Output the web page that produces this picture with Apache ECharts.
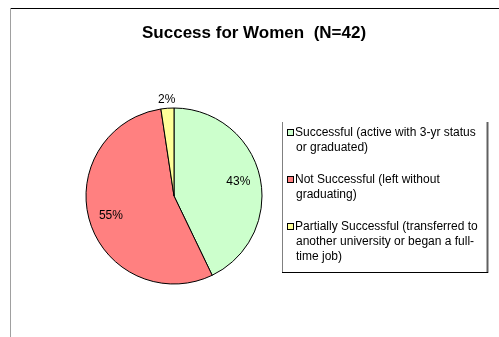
<!DOCTYPE html>
<html>
<head>
<meta charset="utf-8">
<script src="https://cdn.jsdelivr.net/npm/echarts@6/dist/echarts.min.js"></script>
<style>
html,body{margin:0;padding:0;background:#fff;}
#c{width:499px;height:337px;}
</style>
</head>
<body>
<div id="c"></div>
<script>
const chartTitle = 'Success for Women  (N=42)';
const categories = [
  'Successful (active with 3-yr status or graduated)',
  'Not Successful (left without graduating)',
  'Partially Successful (transferred to another university or began a full-time job)'
];
const legendLines = [
  ['Successful (active with 3-yr status', 'or graduated)'],
  ['Not Successful (left without', 'graduating)'],
  ['Partially Successful (transferred to', 'another university or began a full-', 'time job)']
];
const counts = [18, 23, 1];
const sliceColors = ['#CCFFCC', '#FF8080', '#FFFF99'];

const FONT = '"Liberation Sans", Arial, sans-serif';
const chart = echarts.init(document.getElementById('c'), null, {renderer: 'canvas'});

const pieData = categories.map((n, i) => ({name: n, value: counts[i], itemStyle: {color: sliceColors[i]}}));
const CENTER = [174, 196];

const rich = {
  t: {fontSize: 12, lineHeight: 15, color: '#000', fontFamily: FONT},
  gap: {width: 2},
  ind: {width: 8}
};
sliceColors.forEach((c, i) => {
  rich['m' + i] = {width: 5, height: 5, backgroundColor: c, borderColor: '#000', borderWidth: 1};
});

function overlay(radius, showIdx) {
  return {
    type: 'pie',
    center: CENTER,
    radius: [0, radius],
    startAngle: 90,
    clockwise: true,
    silent: true,
    percentPrecision: 0,
    avoidLabelOverlap: false,
    itemStyle: {color: 'rgba(0,0,0,0)', borderWidth: 0},
    emphasis: {disabled: true},
    labelLine: {show: false},
    data: categories.map((n, i) => ({
      name: n, value: counts[i],
      label: {show: showIdx.indexOf(i) >= 0}
    })),
    label: {
      position: 'inside',
      formatter: '{d}%',
      color: '#000',
      fontSize: 12,
      fontFamily: FONT
    }
  };
}

chart.setOption({
  animation: false,
  backgroundColor: '#fff',
  title: {
    text: chartTitle,
    left: 142,
    top: 25,
    padding: 0,
    textStyle: {fontSize: 17, fontWeight: 'bold', color: '#000', fontFamily: FONT}
  },
  legend: {
    orient: 'vertical',
    left: 283,
    top: 125,
    padding: 0,
    itemGap: 17,
    itemWidth: 0,
    itemHeight: 0,
    selectedMode: false,
    icon: 'rect',
    itemStyle: {borderWidth: 0},
    data: categories,
    formatter: function (name) {
      const i = categories.indexOf(name);
      return legendLines[i].map((l, k) => k === 0
        ? '{m' + i + '|}{gap|}{t|' + l + '}'
        : '{ind|}{t|' + l + '}').join('\n');
    },
    textStyle: {rich: rich, fontSize: 12, lineHeight: 15, fontFamily: FONT}
  },
  graphic: [
    {type: 'line', shape: {x1: 10, y1: 8.5, x2: 499, y2: 8.5}, style: {stroke: '#000', lineWidth: 1}, silent: true},
    {type: 'line', shape: {x1: 10.5, y1: 8, x2: 10.5, y2: 337}, style: {stroke: '#a0a0a0', lineWidth: 1}, silent: true},
    {type: 'line', shape: {x1: 282.5, y1: 122, x2: 282.5, y2: 272}, style: {stroke: '#808080', lineWidth: 1}, silent: true},
    {type: 'line', shape: {x1: 487.5, y1: 122, x2: 487.5, y2: 273}, style: {stroke: '#606060', lineWidth: 2}, silent: true},
    {type: 'line', shape: {x1: 282, y1: 272.5, x2: 488, y2: 272.5}, style: {stroke: '#000', lineWidth: 1}, silent: true}
  ],
  series: [
    {
      type: 'pie',
      center: CENTER,
      radius: [0, 88],
      startAngle: 90,
      clockwise: true,
      silent: true,
      emphasis: {disabled: true},
      itemStyle: {borderColor: '#000', borderWidth: 1},
      label: {show: false},
      labelLine: {show: false},
      data: pieData
    },
    overlay(126, [0, 1]),
    overlay(188, [2])
  ]
});
</script>
</body>
</html>
